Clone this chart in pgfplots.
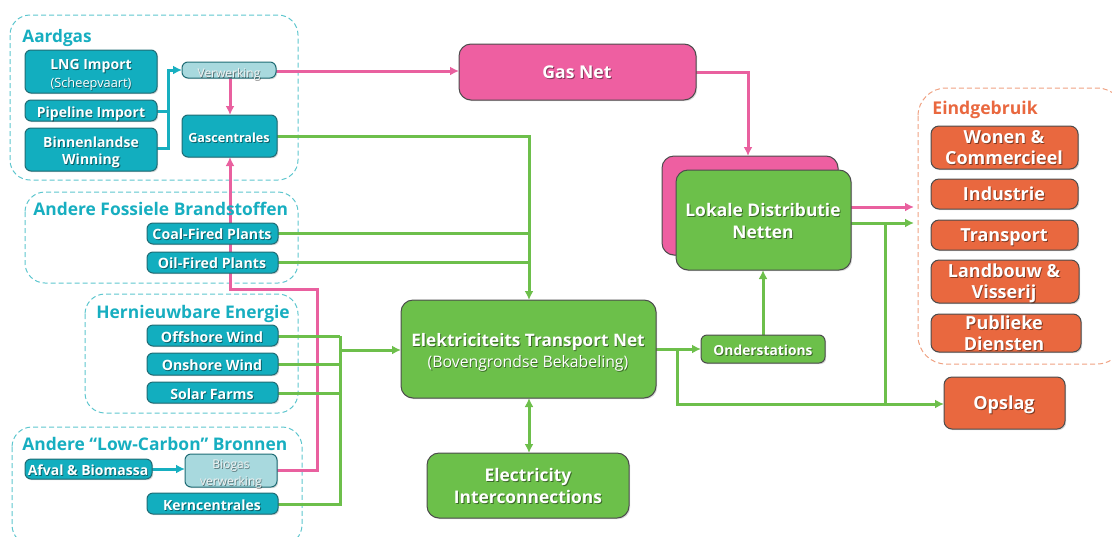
\documentclass[border=0pt]{standalone}
\usepackage{pgfplots}
\pgfplotsset{compat=1.18}
\usepackage{fontspec}
\setmainfont{Open Sans}
\usetikzlibrary{arrows.meta,shadows}
\definecolor{tealF}{HTML}{12AEBF}
\definecolor{tealD}{HTML}{1F6C75}
\definecolor{lblue}{HTML}{A8D9DE}
\definecolor{titleT}{HTML}{17AEC0}
\definecolor{dashT}{HTML}{5EC6CE}
\definecolor{pinkF}{HTML}{EE5FA1}
\definecolor{greenF}{HTML}{6CC04A}
\definecolor{orangeF}{HTML}{E9683F}
\definecolor{dashO}{HTML}{EFA283}
\definecolor{lgreen}{HTML}{6DBF4B}
\definecolor{lpink}{HTML}{E9609F}
\definecolor{lteal}{HTML}{17AFC0}
\newcommand\T[4]{%
  \node[font=\bfseries\fontsize{#3}{#3}\selectfont, text=black, opacity=0.45, inner sep=0pt, text height=0.72em, text depth=0pt, xshift=0.45pt, yshift=-0.45pt] at (axis cs:#1,#2) {#4};
  \node[font=\bfseries\fontsize{#3}{#3}\selectfont, text=white, inner sep=0pt, text height=0.72em, text depth=0pt] at (axis cs:#1,#2) {#4};}
\newcommand\R[5]{%
  \node[font=\fontsize{#3}{#3}\selectfont, text=black, opacity=0.45, inner sep=0pt, text height=0.72em, text depth=0pt, xshift=0.4pt, yshift=-0.4pt] at (axis cs:#1,#2) {#4};
  \node[font=\fontsize{#3}{#3}\selectfont, text=#5, inner sep=0pt, text height=0.72em, text depth=0pt] at (axis cs:#1,#2) {#4};}
\newcommand\Tl[5]{%
  \node[font=\bfseries\fontsize{#3}{#3}\selectfont, text=#5, inner sep=0pt, text height=0.72em, text depth=0pt, anchor=west] at (axis cs:#1,#2) {#4};}
\newcommand\B[5]{\draw[#1] (axis cs:#2,#3) rectangle (axis cs:#4,#5);}
\begin{document}
\begin{tikzpicture}[
  sh/.style={drop shadow={opacity=0.3, shadow xshift=0.6pt, shadow yshift=-0.6pt}},
  tb/.style={fill=tealF, draw=tealD, line width=0.5pt, rounded corners=3pt, sh},
  lb/.style={fill=lblue, draw=tealD, line width=0.5pt, rounded corners=3pt, sh},
  pb/.style={fill=pinkF, draw=black!70, line width=0.5pt, rounded corners=6pt, sh},
  gb/.style={fill=greenF, draw=black!70, line width=0.5pt, rounded corners=6pt, sh},
  gbs/.style={fill=greenF, draw=black!70, line width=0.5pt, rounded corners=3pt, sh},
  ob/.style={fill=orangeF, draw=black!70, line width=0.5pt, rounded corners=4pt, sh},
  grp/.style={draw=dashT, line width=0.5pt, dash pattern=on 2.5pt off 1.5pt, rounded corners=10pt},
  grpo/.style={draw=dashO, line width=0.5pt, dash pattern=on 2.5pt off 1.5pt, rounded corners=14pt},
  gl/.style={draw=lgreen, line width=1.5pt},
  pl/.style={draw=lpink, line width=1.5pt},
  tl/.style={draw=lteal, line width=1.5pt},
  ar/.style={-{Latex[length=4.5pt,width=4.5pt]}},
  arb/.style={{Latex[length=4.5pt,width=4.5pt]}-{Latex[length=4.5pt,width=4.5pt]}}
]
\begin{axis}[width=556pt,height=268pt,scale only axis,
  xmin=0,xmax=1112,ymin=0,ymax=536,y dir=reverse,
  axis lines=none,ticks=none,clip=false]
% ---------- group boxes
\B{grp}{10}{15}{298}{180}
\B{grp}{25}{192}{298}{283}
\B{grp}{85}{294}{298}{413}
\B{grp}{12}{427}{302}{545}
\B{grpo}{918}{88}{1125}{364}
% ---------- teal lines
\draw[tl] (axis cs:157,111) -- (axis cs:168,111);
\draw[tl,ar] (axis cs:157,148) -- (axis cs:168,148) -- (axis cs:168,70) -- (axis cs:182,70);
\draw[tl,ar] (axis cs:152,469) -- (axis cs:185,469);
% ---------- pink lines
\draw[pl,ar] (axis cs:276,71) -- (axis cs:459,71);
\draw[pl,ar] (axis cs:230,78) -- (axis cs:230,115);
\draw[pl,ar] (axis cs:696,72) -- (axis cs:748,72) -- (axis cs:748,156);
\draw[pl,ar] (axis cs:277,470) -- (axis cs:317,470) -- (axis cs:317,289) -- (axis cs:230,289) -- (axis cs:230,157);
\draw[pl,ar] (axis cs:851,207) -- (axis cs:914,207);
% ---------- green lines
\draw[gl,ar] (axis cs:277,136) -- (axis cs:529,136) -- (axis cs:529,300);
\draw[gl] (axis cs:278,233) -- (axis cs:529,233);
\draw[gl] (axis cs:278,262) -- (axis cs:529,262);
\draw[gl] (axis cs:278,336) -- (axis cs:340,336);
\draw[gl] (axis cs:278,364) -- (axis cs:340,364);
\draw[gl] (axis cs:278,393) -- (axis cs:340,393);
\draw[gl] (axis cs:278,504) -- (axis cs:340,504) -- (axis cs:340,336);
\draw[gl,ar] (axis cs:340,350) -- (axis cs:401,350);
\draw[gl,arb] (axis cs:529,398) -- (axis cs:529,453);
\draw[gl,ar] (axis cs:656,349) -- (axis cs:701,349);
\draw[gl,ar] (axis cs:677,349) -- (axis cs:677,404) -- (axis cs:944,404);
\draw[gl,ar] (axis cs:763,335) -- (axis cs:763,270);
\draw[gl,ar] (axis cs:851,223) -- (axis cs:914,223);
\draw[gl] (axis cs:885,223) -- (axis cs:885,404);
% ---------- teal boxes
\B{tb}{25}{50}{157}{93}
\B{tb}{25}{100}{157}{121}
\B{tb}{25}{128}{157}{171}
\B{lb}{182}{62}{276}{78}
\B{tb}{182}{115}{277}{157}
\B{tb}{147}{223}{278}{244}
\B{tb}{147}{252}{278}{273}
\B{tb}{147}{325}{278}{346}
\B{tb}{147}{353}{278}{375}
\B{tb}{147}{382}{278}{403}
\B{tb}{25}{459}{152}{479}
\B{lb}{185}{454}{277}{487}
\B{tb}{147}{493}{278}{514}
% ---------- big boxes
\B{pb}{459}{44}{696}{100}
\B{pb}{662}{156}{838}{255}
\B{gb}{676}{170}{851}{270}
\B{gb}{401}{300}{656}{398}
\B{gbs}{701}{335}{825}{363}
\B{gb}{427}{453}{629}{518}
\B{ob}{931}{126}{1078}{169}
\B{ob}{931}{179}{1078}{209}
\B{ob}{931}{220}{1078}{250}
\B{ob}{931}{260}{1079}{303}
\B{ob}{931}{314}{1081}{352}
\B{ob}{944}{377}{1065}{429}
% ---------- titles
\Tl{22}{35}{8.6}{Aardgas}{titleT}
\Tl{33}{208}{8.7}{Andere Fossiele Brandstoffen}{titleT}
\Tl{96}{311}{8.7}{Hernieuwbare Energie}{titleT}
\Tl{22}{443}{8.7}{Andere “Low-Carbon” Bronnen}{titleT}
\Tl{932}{107}{8.8}{Eindgebruik}{orangeF}
% ---------- box texts
\T{91}{62}{7}{LNG Import}
\R{91}{80}{6.4}{(Scheepvaart)}{white}
\T{91}{110}{7}{Pipeline Import}
\T{91}{140}{7}{Binnenlandse}
\T{91}{157}{7}{Winning}
\R{229}{70}{6}{Verwerking}{white!90!gray}
\T{229}{135}{6.3}{Gascentrales}
\T{212}{232}{7.1}{Coal-Fired Plants}
\T{212}{261}{7.1}{Oil-Fired Plants}
\T{212}{335}{7.1}{Offshore Wind}
\T{212}{363}{7.1}{Onshore Wind}
\T{212}{392}{7.1}{Solar Farms}
\T{88}{468}{7}{Afval \& Biomassa}
\R{231}{461}{6}{Biogas}{white!90!gray}
\R{231}{478}{6}{verwerking}{white!90!gray}
\T{212}{503}{7}{Kerncentrales}
\T{577}{71}{8.8}{Gas Net}
\T{763}{209}{8.7}{Lokale Distributie}
\T{763}{231}{8.7}{Netten}
\T{528}{339}{8.6}{Elektriciteits Transport Net}
\R{528}{360}{7.9}{(Bovengrondse Bekabeling)}{white}
\T{763}{348}{6.9}{Onderstations}
\T{528}{474}{8.7}{Electricity}
\T{528}{496}{8.7}{Interconnections}
\T{1004}{136}{9}{Wonen \&}
\T{1004}{157}{9}{Commercieel}
\T{1004}{193}{9}{Industrie}
\T{1004}{234}{9}{Transport}
\T{1004}{270}{9}{Landbouw \&}
\T{1004}{291}{9}{Visserij}
\T{1004}{322}{9}{Publieke}
\T{1004}{343}{9}{Diensten}
\T{1004}{402}{9}{Opslag}
\end{axis}
\pgfresetboundingbox
\path (current axis.south west) rectangle (current axis.north east);
\end{tikzpicture}
\end{document}
